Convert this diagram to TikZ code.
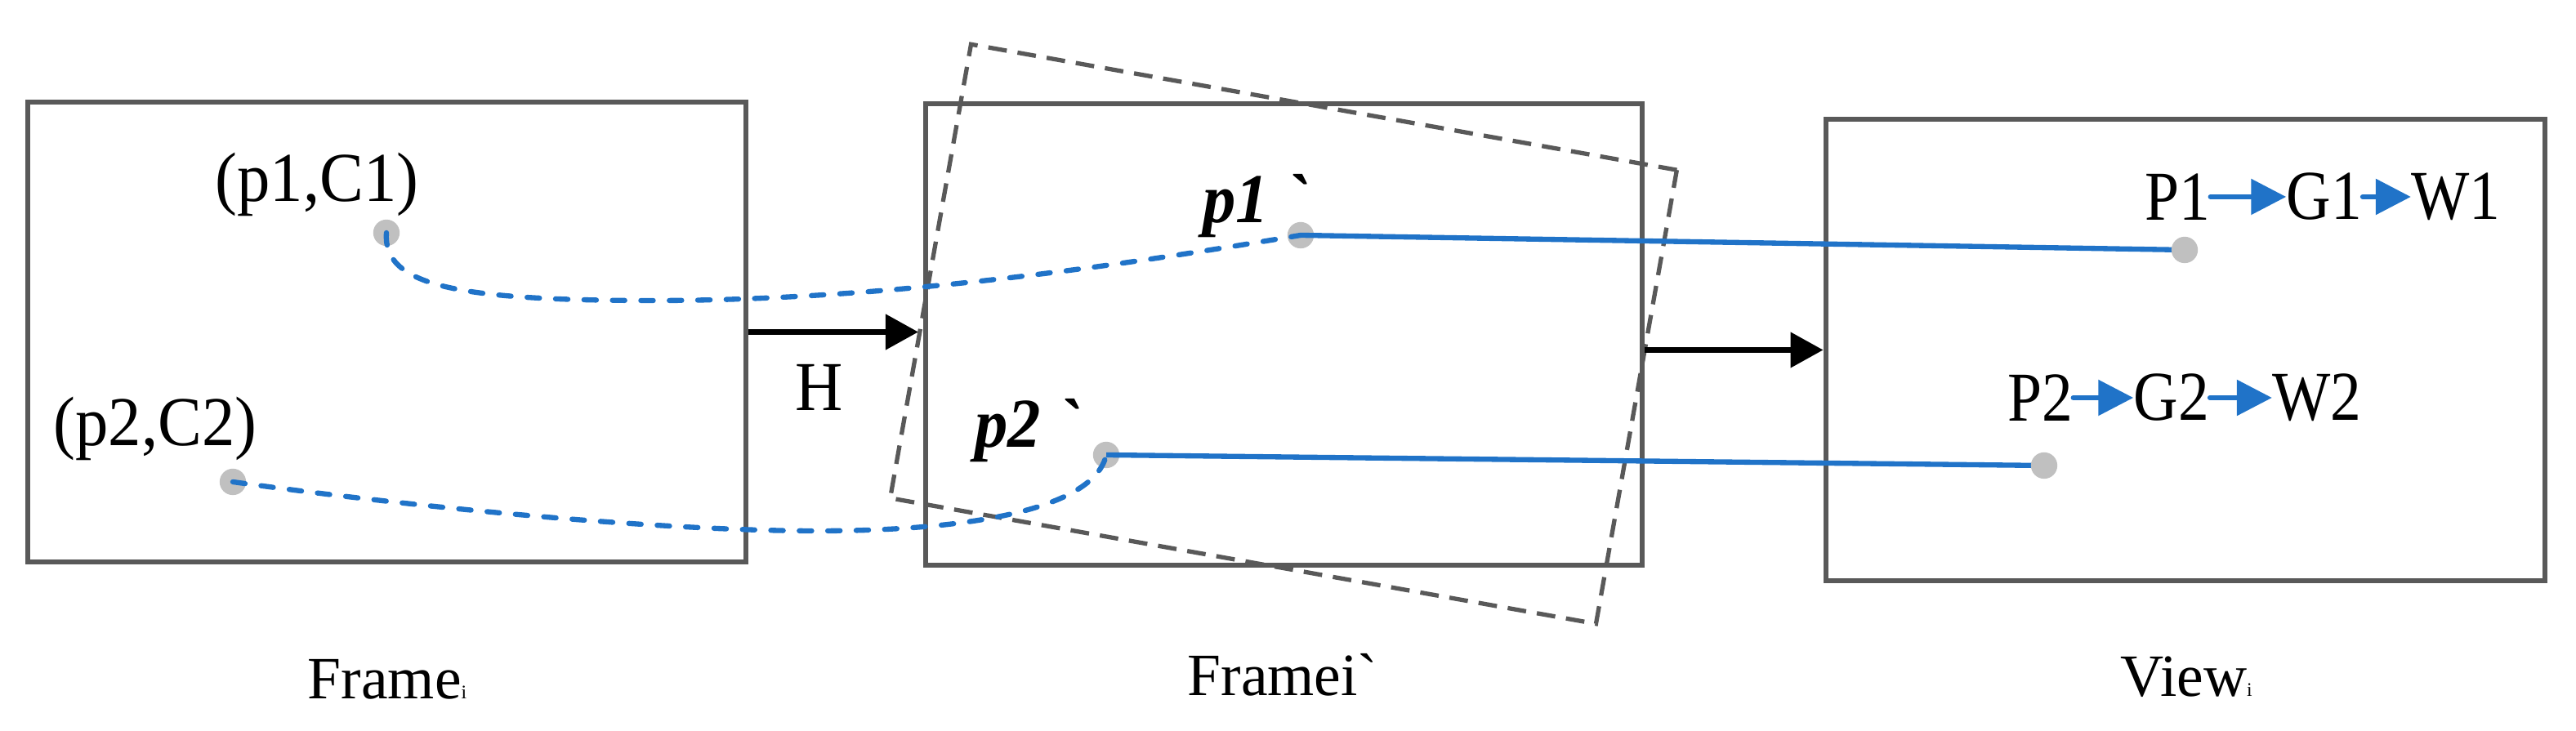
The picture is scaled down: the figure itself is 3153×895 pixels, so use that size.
\documentclass[tikz,border=0pt]{standalone}
\usepackage{fontspec}
\setmainfont{Liberation Serif}
\newfontfamily\labfont[FakeStretch=0.94]{Liberation Serif}
\newfontfamily\viewfont[FakeStretch=0.88]{Liberation Serif}
\font\gravebi="Liberation Serif/BI" at 24.2pt
\font\graverm="Liberation Serif" at 20.9pt
\usetikzlibrary{arrows.meta}
\definecolor{boxgray}{RGB}{89,89,89}
\definecolor{dotgray}{RGB}{192,192,192}
\definecolor{lineblue}{RGB}{32,115,200}
\begin{document}
\begin{tikzpicture}[x=0.01cm,y=-0.01cm,
  frame/.style={draw=boxgray, line width=1.8pt, inner sep=0pt},
  warp/.style={draw=boxgray, line width=1.5pt, dash pattern=on 6.5pt off 3.8pt, inner sep=0pt},
  dot/.style={circle, fill=dotgray, minimum size=9.2pt, inner sep=0pt},
  lab/.style={font=\labfont\fontsize{24.4pt}{29pt}\selectfont, inner sep=0pt, anchor=base},
  plab/.style={font=\labfont\fontsize{24.4pt}{29pt}\selectfont\bfseries\itshape, inner sep=0pt, anchor=base},
  vlab/.style={font=\viewfont\fontsize{24.4pt}{29pt}\selectfont, inner sep=0pt},
  undertext/.style={font=\fontsize{20.9pt}{25pt}\selectfont, inner sep=0pt, anchor=base},
  flow/.style={black, line width=2pt, -{Triangle[length=11.4pt,width=12pt]}},
  link/.style={lineblue, line width=1.8pt},
  track/.style={lineblue, line width=1.8pt, line cap=round, dash pattern=on 4.3pt off 5.6pt},
  chain/.style={lineblue, line width=1.7pt, line cap=round, -{Triangle[length=12.2pt,width=12.2pt]}},
]
\useasboundingbox (0,0) rectangle (3153,895);

% frames
\node[frame, minimum width=8.79cm, minimum height=5.63cm] (f1) at (473.5,406.5) {};
\node[frame, minimum width=8.77cm, minimum height=5.65cm] (f2) at (1571.5,409.5) {};
\node[frame, minimum width=8.80cm, minimum height=5.65cm] (f3) at (2675,428.5) {};
\node[warp, minimum width=8.77cm, minimum height=5.64cm, rotate=-10.1] (f2w) at (1571,409) {};

% flow arrows
\coordinate (htip) at (1124,406.5);
\draw[flow] (f1.east) -- (htip);
\draw[flow] (f2.east |- f3.west) -- (f3.west);
\node[lab] (hl) at (1003,503) {H};

% feature points
\node[dot] (d1) at (473,285) {};
\node[dot] (d2) at (285,590) {};
\node[dot] (d1p) at (1592,288) {};
\node[dot] (d2p) at (1354,557) {};
\coordinate (v1) at (2674,306);
\coordinate (v2) at (2502,570);

% correspondences
\draw[track] (d1.center) .. controls (468,350) and (560,368) .. (800,368)
  .. controls (1100,368) and (1400,320) .. (d1p.center);
\draw[track] (d2.center) .. controls (500,620) and (800,650) .. (1000,650)
  .. controls (1200,650) and (1340,620) .. (d2p.center);
\draw[link] (d1p.center) -- (v1);
\draw[link] (d2p.center) -- (v2);
\node[dot] (vd1) at (v1) {};
\node[dot] (vd2) at (v2) {};

% labels
\node[lab] (c1) at (388,247) {(p1,C1)};
\node[lab] (c2) at (190,546) {(p2,C2)};
\node[plab] (q1) at (1537,273) {p1 {\gravebi `}};
\node[plab] (q2) at (1258,548) {p2 {\gravebi `}};

% view chains
\node[vlab] (P1) at (2665,241) {P1};
\node[vlab] (G1) at (2845,241) {G1};
\node[vlab] (W1) at (3006,241) {W1};
\node[vlab] (P2) at (2497,487) {P2};
\node[vlab] (G2) at (2658,487) {G2};
\node[vlab] (W2) at (2836,487) {W2};
\draw[chain] (P1.east) -- (G1.west);
\draw[chain] (G1.east) -- (W1.west);
\draw[chain] (P2.east) -- (G2.west);
\draw[chain] (G2.east) -- (W2.west);

% captions
\node[undertext] (t1) at (474,856) {Frame{\fontsize{6.7pt}{8pt}\selectfont i}};
\node[undertext] (t2) at (1570,852) {Framei{\graverm `}};
\node[undertext] (t3) at (2676,853) {View{\fontsize{6.7pt}{8pt}\selectfont i}};
\end{tikzpicture}
\end{document}
